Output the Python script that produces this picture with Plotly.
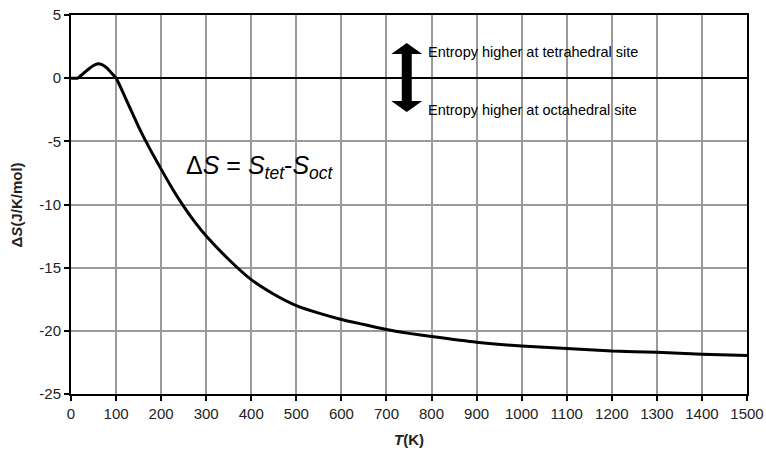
import plotly.graph_objects as go

# Temperature (K) and entropy difference S_tet - S_oct (J/K/mol)
temperature = [0, 15, 20, 30, 40, 50, 60, 70, 80, 90, 100, 125, 150, 175, 200,
               225, 250, 275, 300, 350, 400, 450, 500, 550, 600, 650, 700, 750,
               800, 900, 1000, 1100, 1200, 1300, 1400, 1500]
delta_s = [0.0, 0.0, 0.15, 0.45, 0.75, 1.0, 1.15, 1.05, 0.8, 0.4, 0.0, -1.9,
           -3.85, -5.6, -7.2, -8.75, -10.15, -11.4, -12.5, -14.35, -15.95,
           -17.1, -18.0, -18.6, -19.1, -19.5, -19.9, -20.2, -20.45, -20.9,
           -21.2, -21.4, -21.6, -21.7, -21.85, -21.95]

x_ticks = list(range(0, 1501, 100))
y_ticks = list(range(-25, 6, 5))
y_tick_text = [str(v) for v in y_ticks]  # plain hyphen minus signs

FONT = "Liberation Sans, Arial, sans-serif"

fig = go.Figure()
fig.add_trace(go.Scatter(
    x=temperature, y=delta_s, mode="lines",
    line=dict(color="black", width=3, shape="spline", smoothing=0.6),
    hoverinfo="skip", showlegend=False,
))

axis_common = dict(
    showgrid=True, gridcolor="#9a9a9a", gridwidth=1.5,
    showline=True, linecolor="black", linewidth=2, mirror=True,
    ticks="outside", ticklen=5, tickcolor="black", tickwidth=1.5,
    tickfont=dict(family=FONT, size=15, color="#222"),
    automargin=False,
)

fig.update_xaxes(range=[0, 1500], tickvals=x_ticks, zeroline=False, **axis_common)
fig.update_yaxes(range=[-25, 5], tickvals=y_ticks, ticktext=y_tick_text,
                 zeroline=True, zerolinecolor="black", zerolinewidth=1.5,
                 **axis_common)

# Double-headed arrow marking the sign convention (pixel-sized, anchored at 0)
arrow_path = ("M 0 34.5 L 15.5 23.5 L 5 23.5 L 5 -23.5 L 15.5 -23.5 "
              "L 0 -34.5 L -15.5 -23.5 L -5 -23.5 L -5 23.5 L -15.5 23.5 Z")
fig.add_shape(type="path", path=arrow_path, xref="x", yref="y",
              xsizemode="pixel", ysizemode="pixel", xanchor=745, yanchor=0.05,
              fillcolor="black", line=dict(color="black", width=0))

annotations = [
    dict(x=787, y=2.05, text="Entropy higher at tetrahedral site",
         xanchor="left", yanchor="middle", showarrow=False,
         font=dict(family=FONT, size=14.5, color="black")),
    dict(x=787, y=-2.55, text="Entropy higher at octahedral site",
         xanchor="left", yanchor="middle", showarrow=False,
         font=dict(family=FONT, size=14.5, color="black")),
    dict(x=250, y=-7.05,
         text="Δ<i>S</i> = <i>S<sub>tet</sub></i>-<i>S<sub>oct</sub></i>",
         xanchor="left", yanchor="middle", showarrow=False,
         font=dict(family=FONT, size=25, color="black")),
    dict(x=0.5, y=-0.121, xref="paper", yref="paper",
         text="<b><i>T</i>(K)</b>", showarrow=False,
         xanchor="center", yanchor="middle",
         font=dict(family=FONT, size=15, color="#222")),
    dict(x=-0.08, y=0.5, xref="paper", yref="paper",
         text="<b>Δ<i>S</i>(J/K/mol)</b>", showarrow=False, textangle=-90,
         xanchor="center", yanchor="middle",
         font=dict(family=FONT, size=15, color="#222")),
]
fig.update_layout(
    width=766, height=458,
    margin=dict(l=71, r=19, t=15, b=64),
    paper_bgcolor="white", plot_bgcolor="white",
    annotations=annotations,
    font=dict(family=FONT),
)

fig.write_html("out.html")
